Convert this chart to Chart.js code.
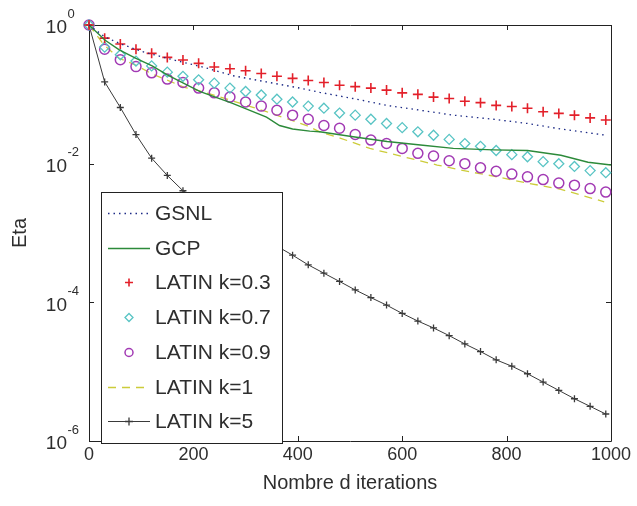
<!DOCTYPE html>
<html>
<head>
<meta charset="utf-8">
<script src="https://cdn.jsdelivr.net/npm/chart.js@4.4.0/dist/chart.umd.min.js"></script>
<style>
    html, body { margin: 0; padding: 0; background: #fff; }
</style>
</head>
<body>
<canvas id="chart" width="637" height="506"></canvas>
<script>
// iterations where the LATIN markers are plotted
const latinIters = [0, 30, 60, 90, 120, 150, 180, 210, 240, 270, 300, 330, 360, 390, 420, 450, 480,
    510, 540, 570, 600, 630, 660, 690, 720, 750, 780, 810, 840, 870, 900, 930, 960, 990];

const latin03 = [1, 0.646, 0.531, 0.446, 0.390, 0.341, 0.312, 0.280, 0.248, 0.234, 0.219, 0.200,
    0.182, 0.170, 0.158, 0.148, 0.135, 0.129, 0.123, 0.115, 0.105, 0.100, 0.0912, 0.0871, 0.0794,
    0.0759, 0.0692, 0.0668, 0.0631, 0.0562, 0.0531, 0.0501, 0.0457, 0.0427];
const latin07 = [1, 0.479, 0.372, 0.302, 0.257, 0.209, 0.182, 0.162, 0.145, 0.123, 0.110, 0.0977,
    0.0851, 0.0776, 0.0676, 0.0631, 0.0537, 0.0501, 0.0437, 0.0380, 0.0331, 0.0288, 0.0257, 0.0224,
    0.0195, 0.0178, 0.0155, 0.0135, 0.0126, 0.0107, 0.0100, 0.00912, 0.00794, 0.00741];
const latin09 = [1, 0.447, 0.316, 0.251, 0.204, 0.166, 0.148, 0.123, 0.105, 0.0912, 0.0776, 0.0676,
    0.0589, 0.0501, 0.0437, 0.0355, 0.0324, 0.0263, 0.0219, 0.0195, 0.0166, 0.0141, 0.0129, 0.0110,
    0.0100, 0.00871, 0.00776, 0.00708, 0.00646, 0.00589, 0.00525, 0.00490, 0.00437, 0.00389];
const latin5 = [1, 0.151, 0.0646, 0.0263, 0.0120, 0.00676, 0.00407, 0.00295, 0.00219, 0.00158,
    0.00117, 8.71e-4, 6.46e-4, 4.79e-4, 3.47e-4, 2.63e-4, 2.00e-4, 1.51e-4, 1.17e-4, 9.12e-5,
    6.92e-5, 5.37e-5, 4.27e-5, 3.31e-5, 2.51e-5, 1.95e-5, 1.48e-5, 1.20e-5, 9.33e-6, 7.08e-6,
    5.37e-6, 4.07e-6, 3.16e-6, 2.45e-6];

// LATIN k=1 (dashed line)
const latin1Iters = [0, 29, 58, 90, 119, 148, 183, 212, 269, 340, 417, 442, 481, 538, 602, 667, 731,
    775, 840, 904, 987];
const latin1 = [1, 0.513, 0.331, 0.263, 0.200, 0.162, 0.126, 0.112, 0.0832, 0.0562, 0.0355, 0.0288,
    0.0234, 0.0166, 0.0126, 0.00955, 0.00759, 0.00661, 0.00525, 0.00427, 0.00282];

// GSNL (dotted)
const gsnlIters = [0, 30, 60, 100, 160, 225, 275, 340, 404, 442, 506, 571, 635, 698, 775, 840, 904, 990];
const gsnl = [1, 0.676, 0.537, 0.417, 0.316, 0.240, 0.186, 0.151, 0.123, 0.107, 0.0871, 0.0692,
    0.0589, 0.0501, 0.0437, 0.0380, 0.0316, 0.0257];

// GCP (solid)
const gcpIters = [0, 31, 58, 90, 121, 150, 179, 212, 275, 340, 365, 390, 423, 442, 506, 571, 635,
    698, 775, 840, 904, 956, 1000];
const gcp = [1, 0.603, 0.437, 0.331, 0.257, 0.191, 0.148, 0.110, 0.0741, 0.0468, 0.0355, 0.0316,
    0.0295, 0.0288, 0.0245, 0.0209, 0.0186, 0.0166, 0.0158, 0.0155, 0.0132, 0.0105, 0.00955];

const xTickValues = [0, 200, 400, 600, 800, 1000];
const yTickExps = [0, -2, -4, -6];

const FONT = '"Liberation Sans", Arial, sans-serif';
const TXT = '#2e2e2e';

function pts(xs, ys) {
    return xs.map((x, i) => ({ x: x, y: ys[i] }));
}

// cadre + graduations vers l'intérieur (style Matlab)
const framePlugin = {
    id: 'frame',
    beforeDatasetsDraw(chart) {
        const { ctx, chartArea: a, scales } = chart;
        ctx.save();
        ctx.strokeStyle = '#222';
        ctx.lineWidth = 1;
        ctx.beginPath();
        ctx.rect(a.left + 0.5, a.top + 0.5, a.right - a.left, a.bottom - a.top);
        xTickValues.forEach(v => {
            const px = Math.round(scales.x.getPixelForValue(v)) + 0.5;
            ctx.moveTo(px, a.bottom); ctx.lineTo(px, a.bottom - 5);
            ctx.moveTo(px, a.top); ctx.lineTo(px, a.top + 5);
        });
        yTickExps.forEach(e => {
            const py = Math.round(scales.y.getPixelForValue(Math.pow(10, e))) + 0.5;
            ctx.moveTo(a.left, py); ctx.lineTo(a.left + 5, py);
            ctx.moveTo(a.right, py); ctx.lineTo(a.right - 5, py);
        });
        ctx.stroke();
        ctx.restore();
    }
};

// labels 10^n avec exposant
const yLabelPlugin = {
    id: 'yLabels',
    afterDraw(chart) {
        const { ctx, scales } = chart;
        ctx.save();
        ctx.fillStyle = TXT;
        ctx.textBaseline = 'middle';
        yTickExps.forEach(e => {
            const py = scales.y.getPixelForValue(Math.pow(10, e));
            ctx.font = '19px ' + FONT;
            ctx.textAlign = 'right';
            ctx.fillText('10', 67, py + 3);
            ctx.font = '13px ' + FONT;
            ctx.textAlign = 'left';
            ctx.fillText(String(e), 67.5, py - 11);
        });
        ctx.restore();
    }
};

// légende en bas à gauche, dans la zone du graphique
const boxLegendPlugin = {
    id: 'boxLegend',
    afterDraw(chart) {
        const ctx = chart.ctx;
        const bx = 101, by = 192, bw = 181, bh = 251;
        ctx.save();
        ctx.fillStyle = '#fff';
        ctx.fillRect(bx, by, bw, bh);
        ctx.strokeStyle = '#222';
        ctx.lineWidth = 1;
        ctx.strokeRect(bx + 0.5, by + 0.5, bw, bh);
        chart.data.datasets.forEach((ds, i) => {
            const cy = Math.round(213 + i * 34.7) + 0.5;
            if (ds.showLine !== false) {
                ctx.save();
                ctx.strokeStyle = ds.borderColor;
                ctx.lineWidth = ds.borderWidth;
                ctx.setLineDash(ds.borderDash || []);
                ctx.beginPath();
                ctx.moveTo(108, cy);
                ctx.lineTo(150, cy);
                ctx.stroke();
                ctx.restore();
            }
            if (ds.pointRadius > 0) {
                ctx.save();
                ctx.strokeStyle = ds.pointBorderColor;
                ctx.fillStyle = 'rgba(0,0,0,0)';
                ctx.lineWidth = ds.pointBorderWidth;
                Chart.helpers.drawPoint(ctx, {
                    pointStyle: ds.pointStyle, radius: 4, rotation: 0, borderWidth: ds.pointBorderWidth
                }, 129, cy);
                ctx.restore();
            }
            ctx.fillStyle = TXT;
            ctx.font = '21px ' + FONT;
            ctx.textAlign = 'left';
            ctx.textBaseline = 'middle';
            ctx.fillText(ds.label, 155, cy + 1);
        });
        ctx.restore();
    }
};

const ctx = document.getElementById('chart').getContext('2d');
new Chart(ctx, {
    type: 'line',
    data: {
        datasets: [
            {
                label: 'GSNL', data: pts(gsnlIters, gsnl),
                borderColor: '#1d2b86', borderWidth: 1.3, borderDash: [1.5, 4],
                pointRadius: 0
            },
            {
                label: 'GCP', data: pts(gcpIters, gcp),
                borderColor: '#2c8a3a', borderWidth: 1.4, pointRadius: 0
            },
            {
                label: 'LATIN k=0.3', data: pts(latinIters, latin03), showLine: false,
                pointStyle: 'cross', pointRadius: 5, pointBorderColor: '#e3202a', pointBorderWidth: 1.6
            },
            {
                label: 'LATIN k=0.7', data: pts(latinIters, latin07), showLine: false,
                pointStyle: 'rectRot', pointRadius: 5, pointBorderColor: '#58c4c4',
                pointBackgroundColor: 'rgba(0,0,0,0)', pointBorderWidth: 1.3
            },
            {
                label: 'LATIN k=0.9', data: pts(latinIters, latin09), showLine: false,
                pointStyle: 'circle', pointRadius: 5, pointBorderColor: '#a23ab4',
                pointBackgroundColor: 'rgba(0,0,0,0)', pointBorderWidth: 1.5
            },
            {
                label: 'LATIN k=1', data: pts(latin1Iters, latin1),
                borderColor: '#cccc3a', borderWidth: 1.3, borderDash: [8, 6], pointRadius: 0
            },
            {
                label: 'LATIN k=5', data: pts(latinIters, latin5),
                borderColor: '#3a3a3a', borderWidth: 1, pointStyle: 'cross', pointRadius: 3.5,
                pointBorderColor: '#3a3a3a', pointBorderWidth: 1.3
            }
        ]
    },
    options: {
        responsive: false,
        animation: false,
        devicePixelRatio: 1,
        clip: false,
        elements: { line: { tension: 0, fill: false } },
        layout: { padding: { top: 25, right: 26, bottom: 0, left: 0 } },
        plugins: { legend: { display: false }, tooltip: { enabled: false } },
        scales: {
            x: {
                type: 'linear', min: 0, max: 1000,
                afterBuildTicks: s => { s.ticks = xTickValues.map(v => ({ value: v })); },
                afterFit: s => { s.height = 65; },
                grid: { display: false, drawTicks: false },
                border: { display: false },
                ticks: {
                    font: { size: 18, family: FONT }, color: TXT, padding: 3, maxRotation: 0,
                    callback: v => String(v)
                },
                title: {
                    display: true, text: 'Nombre d iterations', color: TXT,
                    font: { size: 20, family: FONT }, padding: { top: 0, bottom: 11 }
                }
            },
            y: {
                type: 'logarithmic', min: 1e-6, max: 1,
                afterFit: s => { s.width = 89; },
                grid: { display: false, drawTicks: false },
                border: { display: false },
                ticks: { display: false },
                title: {
                    display: true, text: 'Eta', color: TXT,
                    font: { size: 20, family: FONT }, padding: { top: 8, bottom: 0 }
                }
            }
        }
    },
    plugins: [framePlugin, yLabelPlugin, boxLegendPlugin]
});
</script>
</body>
</html>
